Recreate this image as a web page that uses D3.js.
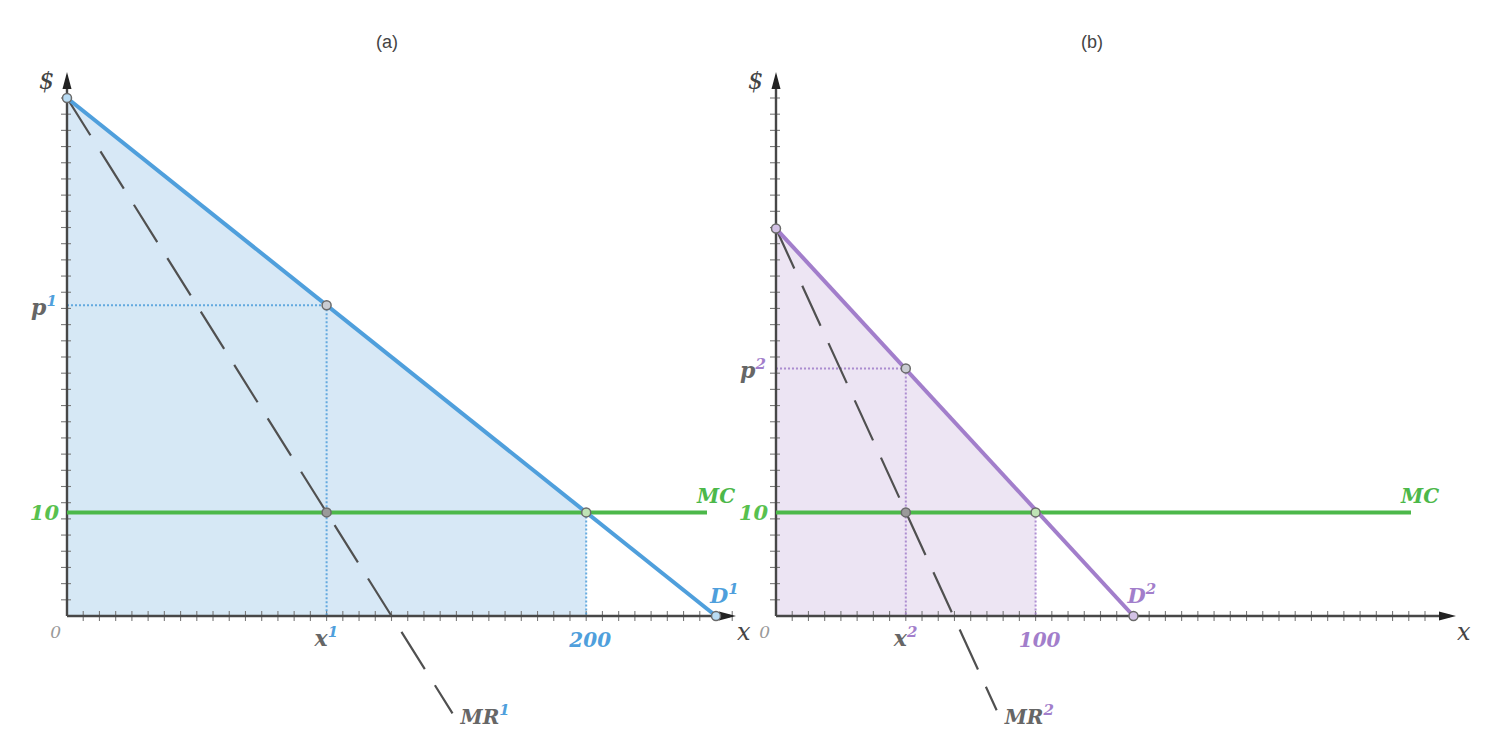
<!DOCTYPE html>
<html><head><meta charset="utf-8">
<script src="https://cdn.jsdelivr.net/npm/d3@7"></script>
<style>body{margin:0;background:#fff}svg{display:block}</style>
</head><body>
<svg id="c" width="1495" height="736"></svg>
<script>
// ---- data (economic units) ----
const panelTitles = ["(a)", "(b)"];
const mcValue = 10;
const demand1 = [[0, 50], [250, 0]];
const mr1 = [[0, 50], [148.5, -9.4]];
const surplus1 = [[0, 0], [0, 50], [200, 10], [200, 0]];
const optimum1 = {x: 100, p: 30};
const competitive1 = {x: 200, p: 10};
const demand2 = [[0, 37.4], [137.7, 0]];
const mr2 = [[0, 37.4], [85, -9.1]];
const surplus2 = [[0, 0], [0, 37.4], [100, 10], [100, 0]];
const optimum2 = {x: 50, p: 23.9};
const competitive2 = {x: 100, p: 10};
const xTickStep = 6.25, yTickStep = 1.5625;
const xTickLabels1 = ["x", "200"], xTickLabels2 = ["x", "100"];

const svg = d3.select("#c");
const serif = "'DejaVu Serif', 'Liberation Serif', serif";
const axisCol = "#474747";

function panel(cfg) {
  const x = d3.scaleLinear().domain([0, 250]).range([cfg.x0, cfg.x0 + 649]);
  const y = d3.scaleLinear().domain([0, 50]).range([616, 98]);
  const g = svg.append("g");
  const line = d3.line().x(d => x(d[0])).y(d => y(d[1]));

  // fills
  g.append("path").attr("d", line(cfg.surplus) + "Z").attr("fill", cfg.fill).attr("opacity", 0.9);
  g.append("rect").attr("x", x(0)).attr("y", y(cfg.opt.p)).attr("width", x(cfg.opt.x) - x(0))
    .attr("height", y(0) - y(cfg.opt.p)).attr("fill", cfg.fill).attr("opacity", 0.25);

  // ticks
  const xt = d3.range(xTickStep, cfg.xTickMax, xTickStep);
  g.selectAll(null).data(xt).join("line")
    .attr("x1", d => x(d)).attr("x2", d => x(d)).attr("y1", 611).attr("y2", 621)
    .attr("stroke", "#7a7a7a").attr("stroke-width", 1.1);
  const yt = d3.range(yTickStep, 51.5, yTickStep);
  g.selectAll(null).data(yt).join("line")
    .attr("y1", d => y(d)).attr("y2", d => y(d)).attr("x1", x(0) - 6).attr("x2", x(0) + 4)
    .attr("stroke", "#7a7a7a").attr("stroke-width", 1.1);

  // dotted guides
  const dot = {stroke: cfg.color, "stroke-width": 2, "stroke-dasharray": "2,2", opacity: 0.85};
  const gl = (x1, y1, x2, y2) => { const l = g.append("line").attr("x1", x1).attr("y1", y1).attr("x2", x2).attr("y2", y2); for (const k in dot) l.attr(k, dot[k]); };
  gl(x(0), y(cfg.opt.p), x(cfg.opt.x), y(cfg.opt.p));
  gl(x(cfg.opt.x), y(cfg.opt.p), x(cfg.opt.x), y(0));
  gl(x(cfg.comp.x), y(cfg.comp.p), x(cfg.comp.x), y(0));

  // axes
  g.append("line").attr("x1", x(0)).attr("y1", y(0)).attr("x2", x(0)).attr("y2", 80).attr("stroke", axisCol).attr("stroke-width", 2.4);
  g.append("path").attr("d", `M${x(0)},72 L${x(0)-4.5},89 L${x(0)+4.5},89 Z`).attr("fill", "#222");
  g.append("line").attr("x1", x(0)).attr("y1", y(0)).attr("x2", cfg.xEnd - 6).attr("y2", y(0)).attr("stroke", axisCol).attr("stroke-width", 2.4);
  g.append("path").attr("d", `M${cfg.xEnd},616 L${cfg.xEnd-17},611.5 L${cfg.xEnd-17},620.5 Z`).attr("fill", "#222");

  // MC
  g.append("line").attr("x1", x(0)).attr("x2", cfg.mcEnd).attr("y1", y(mcValue)).attr("y2", y(mcValue))
    .attr("stroke", "#4cb84a").attr("stroke-width", 4);

  // MR
  g.append("path").attr("d", line(cfg.mr)).attr("fill", "none").attr("stroke", "#505050")
    .attr("stroke-width", 2.2).attr("stroke-dasharray", "44,19");

  // demand
  g.append("path").attr("d", line(cfg.demand)).attr("fill", "none").attr("stroke", cfg.color).attr("stroke-width", 4);

  // points
  const pts = [
    [cfg.demand[0], cfg.ptFill], [[cfg.opt.x, cfg.opt.p], "#c9ccd2"], [[cfg.opt.x, mcValue], "#9a9a9a"],
    [[cfg.comp.x, cfg.comp.p], "#bfe3b5"], [cfg.demand[1], cfg.ptFill]
  ];
  g.selectAll(null).data(pts).join("circle")
    .attr("cx", d => x(d[0][0])).attr("cy", d => y(d[0][1])).attr("r", 4.5)
    .attr("fill", d => d[1]).attr("stroke", "#6a6a6a").attr("stroke-width", 1.5);

  // text
  const t = (tx, ty, s, o) => g.append("text").attr("x", tx).attr("y", ty).text(s)
      .attr("font-family", o.family || serif).attr("font-size", o.size || 20)
      .attr("font-weight", o.weight || "bold").attr("font-style", o.style || "italic")
      .attr("fill", o.fill || "#666").attr("text-anchor", o.anchor || "start");
  const sup = (e, s, col) => e.append("tspan").attr("dy", -9).attr("font-size", 15).attr("fill", col).text(s);

  t((x(0) + cfg.titleX), 48, cfg.title, {family: "'Liberation Sans', Arial, sans-serif", weight: "normal", style: "normal", size: 18, fill: "#444", anchor: "middle"});
  t(x(0) - 28, 89, "$", {weight: "normal", size: 24, fill: "#444"});
  t(x(0) - 6, 638, "0", {weight: "normal", size: 17, fill: "#999", anchor: "end"});
  t(cfg.xEnd + 1, 640, "x", {weight: "normal", size: 24, fill: "#444"});
  t(x(0) - 8, y(mcValue) + 8, "10", {fill: "#58c14f", anchor: "end", size: 21});
  sup(t(x(0) - 36, y(cfg.opt.p) + 10, "p", {size: 22}), cfg.n, cfg.color);
  sup(t(x(cfg.opt.x) - 12, 646, "x", {size: 22}), cfg.n, cfg.color);
  t(x(cfg.comp.x) + 4, 647, cfg.compLabel, {fill: cfg.color, anchor: "middle", size: 20});
  t(cfg.mcEnd - 10, y(mcValue) - 9, "MC", {fill: "#4cb84a"});
  sup(t(x(cfg.demand[1][0]) - 6, 603, "D", {fill: cfg.color, size: 21}), cfg.n, cfg.color);
  sup(t(x(cfg.mr[1][0]) + 8, 724, "MR", {size: 20}), cfg.n, cfg.color);
}

panel({x0: 67, title: panelTitles[0], titleX: 320, fill: "#d3e6f5", color: "#4f9fdc", ptFill: "#b9dcf4",
  surplus: surplus1, opt: optimum1, comp: competitive1, demand: demand1, mr: mr1, n: "1",
  compLabel: xTickLabels1[1], xEnd: 736, mcEnd: 707, xTickMax: 262});
panel({x0: 776, title: panelTitles[1], titleX: 316, fill: "#ebe2f2", color: "#a27ecb", ptFill: "#d3c2e6",
  surplus: surplus2, opt: optimum2, comp: competitive2, demand: demand2, mr: mr2, n: "2",
  compLabel: xTickLabels2[1], xEnd: 1456, mcEnd: 1411, xTickMax: 256});
</script>
</body></html>
